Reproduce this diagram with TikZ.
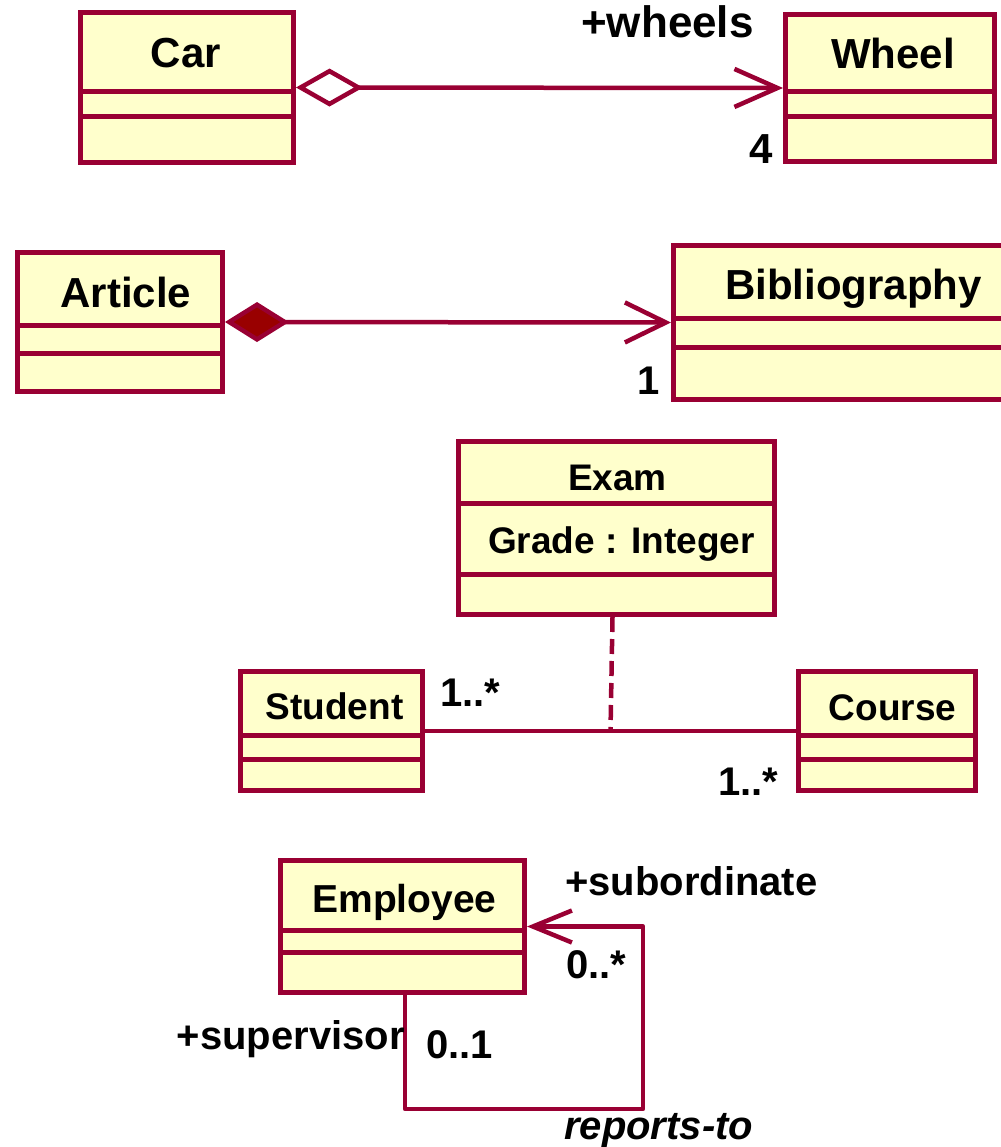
\documentclass[tikz,border=0pt]{standalone}
\usepackage{fontspec}
\setmainfont{Liberation Sans}
\usetikzlibrary{arrows.meta,calc}

\definecolor{umlline}{RGB}{153,0,51}
\definecolor{umlfill}{RGB}{255,255,204}
\definecolor{umlcomp}{RGB}{153,0,0}

% class box: name, x1, y1, x2, y2 (line centres), divider 1, divider 2
\newcommand\classbox[7]{%
  \node[classrect, minimum width={#4-#2}, minimum height={#5-#3}]
    (#1) at ({(#2+#4)/2},{(#3+#5)/2}) {};
  \draw[classline] (#2,#6) -- (#4,#6) (#2,#7) -- (#4,#7);
}

\begin{document}
\begin{tikzpicture}[x=1pt, y=-1pt,
  classrect/.style={draw=umlline, fill=umlfill, line width=5pt, inner sep=0pt},
  classline/.style={draw=umlline, line width=5pt},
  assoc/.style={draw=umlline, line width=4.5pt},
  title/.style={font=\bfseries\fontsize{42}{48}\selectfont, anchor=base, inner sep=0pt},
  smalltitle/.style={font=\bfseries\fontsize{37}{44}\selectfont, anchor=base, inner sep=0pt},
  lbl/.style={font=\bfseries\fontsize{40}{46}\selectfont, inner sep=0pt},
]
\useasboundingbox (0,0) rectangle (1000,1147);

% ---------- aggregation: Car / Wheel ----------
\classbox{car}{80.5}{12.5}{293.5}{162.5}{92}{117}
\classbox{wheel}{785.5}{14.5}{994.5}{161.5}{91.5}{117}
\node[title] (carname) at (186,68) {Car};
\node[title] (wheelname) at (893,69) {Wheel};
\draw[assoc, {Diamond[open, fill=white, length=67pt, width=38pt]}-{Straight Barb[length=43pt, width=38pt]}]
  (car.east) -- (wheel.west);
\node[lbl, anchor=base west, font=\bfseries\fontsize{44}{50}\selectfont] (wheelsrole) at (581,38) {+wheels};
\node[lbl, anchor=base east, font=\bfseries\fontsize{42}{48}\selectfont] (wheelsmult) at (773,164) {4};

% ---------- composition: Article / Bibliography ----------
\classbox{article}{17.5}{252.5}{222.5}{391.5}{325}{353}
\classbox{biblio}{673.5}{245.5}{1010}{399.5}{318}{347}
\node[title] (articlename) at (126,307) {Article};
\node[title] (biblioname) at (853.5,299) {Bibliography};
\draw[assoc, {Diamond[fill=umlcomp, length=64pt, width=40pt]}-{Straight Barb[length=41pt, width=40pt]}]
  (article.east) -- (biblio.west);
\node[lbl, anchor=base east] (bibmult) at (660,394) {1};

% ---------- association class: Exam ----------
\classbox{exam}{458.5}{441.5}{774.5}{614.5}{503}{574}
\node[smalltitle] (examname) at (617.5,490) {Exam};
\node[font=\bfseries\fontsize{37}{44}\selectfont, anchor=base, inner sep=0pt] (examattr) at (621.5,553) {Grade : Integer};

\classbox{student}{240.5}{671.5}{422.5}{790.5}{735}{759}
\classbox{course}{798.5}{671.5}{975.5}{790.5}{735}{759}
\node[smalltitle] (studentname) at (334.5,719) {Student};
\node[smalltitle] (coursename) at (892.5,720) {Course};
\draw[assoc] (student.east) -- (course.west);
\coordinate (assocpt) at ($(student.east)!0.5!(course.west)$);
\draw[assoc, dash pattern=on 15pt off 7pt] ($(exam.south)+(-4,0)$) -- (assocpt);
\node[lbl, anchor=base west] (studmult) at (440,706) {1..*};
\node[lbl, anchor=base west] (coursemult) at (718,795) {1..*};

% ---------- reflexive association: Employee ----------
\classbox{employee}{280.5}{860.5}{524.5}{992.5}{930}{952}
\node[font=\bfseries\fontsize{39}{46}\selectfont, anchor=base, inner sep=0pt] (employeename) at (404.5,912) {Employee};
\coordinate (loopa) at (405,1109);
\coordinate (loopb) at (643,1109);
\coordinate (loopc) at (643,926.5);
\draw[assoc, line join=round, -{Straight Barb[length=39pt, width=32pt]}]
  (employee.south -| loopa) -- (loopa) -- (loopb) -- (loopc) -- (employee.east);
\node[lbl, anchor=base west] (subrole) at (565,895) {+subordinate};
\node[lbl, anchor=base west] (submult) at (566,978) {0..*};
\node[lbl, anchor=base east] (suprole) at (405,1049) {+supervisor};
\node[lbl, anchor=base west] (supmult) at (426,1058) {0..1};
\node[lbl, anchor=base west, font=\bfseries\itshape\fontsize{40}{46}\selectfont] (assocname) at (564,1139) {reports-to};
\end{tikzpicture}
\end{document}
